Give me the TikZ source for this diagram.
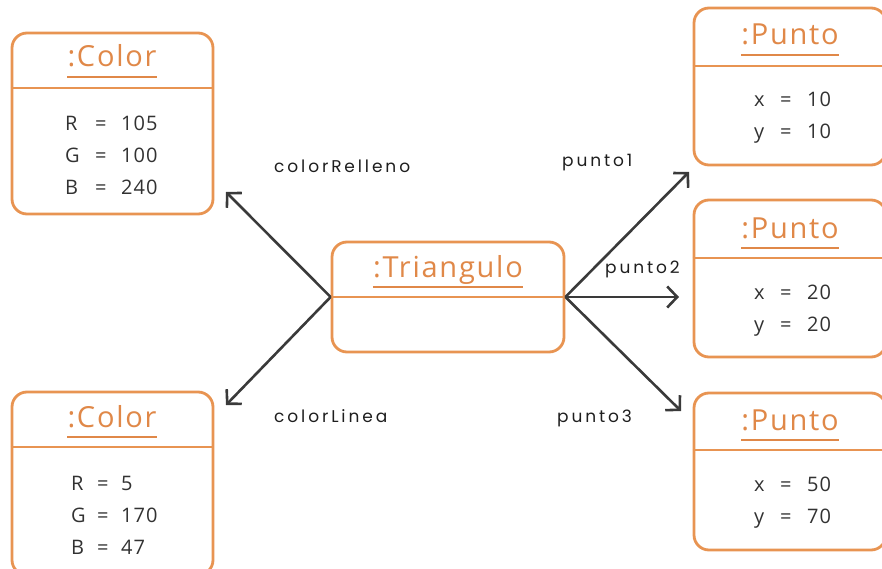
\documentclass[tikz,border=0pt]{standalone}
\usepackage{fontspec}
\setmainfont{Open Sans}
\newfontfamily\titlefont[LetterSpace=6]{Open Sans}
\newfontfamily\attrfont[LetterSpace=5]{Open Sans}
\newfontfamily\lblfont[LetterSpace=17]{Poppins}
\usetikzlibrary{arrows.meta}
\definecolor{umlorange}{RGB}{232,148,82}
\definecolor{titleorange}{RGB}{224,136,72}
\definecolor{attrgray}{RGB}{50,50,50}
\definecolor{arrowgray}{RGB}{58,58,58}
\definecolor{lblgray}{RGB}{30,30,30}
\newcommand\attrline[4]{\makebox[#1][l]{#3}\makebox[#2][l]{=}#4}
\begin{document}
\begin{tikzpicture}[x=1pt,y=-1pt,
  objbox/.style={draw=umlorange, line width=2.8pt, rounded corners=15pt, fill=white, inner sep=0pt},
  divider/.style={draw=umlorange, line width=2.6pt},
  objtitle/.style={text=titleorange, font=\titlefont\fontsize{29}{32}\selectfont, inner sep=0pt, anchor=base},
  uline/.style={draw=titleorange, line width=1.4pt},
  attr/.style={text=attrgray, font=\attrfont\fontsize{20}{24}\selectfont, inner sep=0pt, anchor=base west},
  lbl/.style={text=lblgray, font=\lblfont\fontsize{17}{20}\selectfont, inner sep=0pt, anchor=base west},
  link/.style={draw=arrowgray, line width=2.6pt, -{Straight Barb[length=10pt,width=21pt]}}
]
\useasboundingbox (0,0) rectangle (882,569);
\clip (0,0) rectangle (882,569);

% boxes
\node[objbox, minimum width=201pt, minimum height=181pt] (c1) at (112.5,123.5) {};
\node[objbox, minimum width=201pt, minimum height=183pt] (c2) at (112.5,483.5) {};
\node[objbox, minimum width=232pt, minimum height=110pt] (tri) at (448,297) {};
\node[objbox, minimum width=192pt, minimum height=157pt] (p1) at (790,86.5) {};
\node[objbox, minimum width=192pt, minimum height=157pt] (p2) at (790,278.5) {};
\node[objbox, minimum width=192pt, minimum height=157pt] (p3) at (790,471.5) {};

% dividers
\draw[divider] (c1.west |- 0,88) -- (c1.east |- 0,88);
\draw[divider] (c2.west |- 0,447) -- (c2.east |- 0,447);
\draw[divider] (tri.west) -- (tri.east);
\draw[divider] (p1.west |- 0,66) -- (p1.east |- 0,66);
\draw[divider] (p2.west |- 0,258) -- (p2.east |- 0,258);
\draw[divider] (p3.west |- 0,450) -- (p3.east |- 0,450);

% titles
\node[objtitle] (c1t) at (112,67) {:Color};
\node[objtitle] (c2t) at (112,427) {:Color};
\node[objtitle] (trit) at (448,277) {:Triangulo};
\node[objtitle] (p1t) at (790,45) {:Punto};
\node[objtitle] (p2t) at (790,238) {:Punto};
\node[objtitle] (p3t) at (790,430) {:Punto};
\foreach \t in {c1t,c2t,trit,p1t,p2t,p3t}{
  \draw[uline] ([yshift=-10pt]\t.base west) -- ([yshift=-10pt]\t.base east);
}

% attributes
\node[attr] (c1r) at (65,131) {\attrline{30pt}{26pt}{R}{105}};
\node[attr] (c1g) at (65,163) {\attrline{30pt}{26pt}{G}{100}};
\node[attr] (c1b) at (65,195) {\attrline{30pt}{26pt}{B}{240}};
\node[attr] (c2r) at (71,490) {\attrline{26pt}{24pt}{R}{5}};
\node[attr] (c2g) at (71,522) {\attrline{26pt}{24pt}{G}{170}};
\node[attr] (c2b) at (71,554) {\attrline{26pt}{24pt}{B}{47}};
\node[attr] (p1x) at (754,107) {\attrline{26pt}{27pt}{x}{10}};
\node[attr] (p1y) at (754,139) {\attrline{26pt}{27pt}{y}{10}};
\node[attr] (p2x) at (754,299) {\attrline{26pt}{27pt}{x}{20}};
\node[attr] (p2y) at (754,331) {\attrline{26pt}{27pt}{y}{20}};
\node[attr] (p3x) at (754,491) {\attrline{26pt}{27pt}{x}{50}};
\node[attr] (p3y) at (754,523) {\attrline{26pt}{27pt}{y}{70}};

% arrow ends
\coordinate (e1) at (226,192);
\coordinate (e2) at (226,405);
\coordinate (e3) at (689,172);
\coordinate (e4) at (679,297);
\coordinate (e5) at (681,411);

\draw[link] (tri.west) -- (e1);
\draw[link] (tri.west) -- (e2);
\draw[link] (tri.east) -- (e3);
\draw[link] (tri.east) -- (e4);
\draw[link] (tri.east) -- (e5);

% labels
\node[lbl] (l1) at (274,173) {colorRelleno};
\node[lbl] (l2) at (274,422) {colorLinea};
\node[lbl] (l3) at (562,167) {punto1};
\node[lbl] (l4) at (605,273) {punto2};
\node[lbl] (l5) at (557,422) {punto3};
\end{tikzpicture}
\end{document}
